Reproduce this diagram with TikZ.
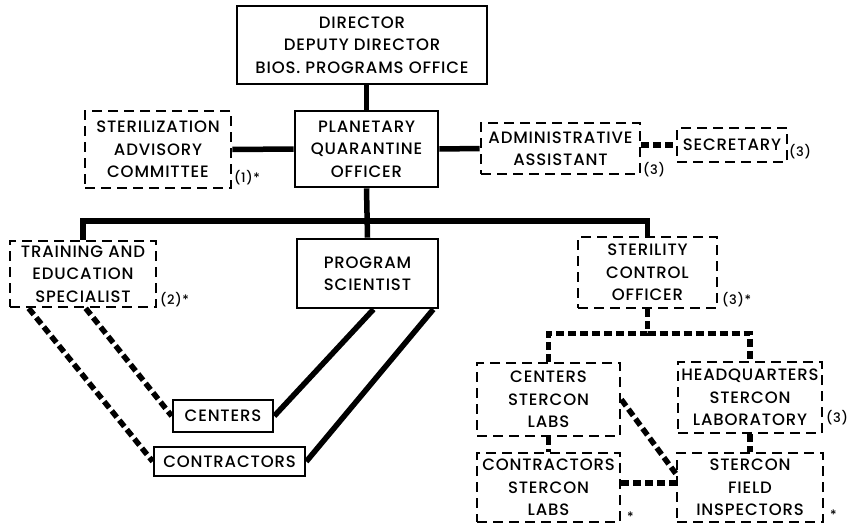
\documentclass[tikz,border=0pt]{standalone}
\usepackage{fontspec}
\setmainfont{Poppins Medium}[LetterSpace=5]
\begin{document}
\begin{tikzpicture}[x=1pt,y=-1pt,box/.style={draw, line width=2.6pt, align=center, inner sep=0pt, font=\fontsize{16.5}{22.5}\selectfont},dbox/.style={box, dash pattern=on 10pt off 6pt},conn/.style={line width=5.5pt},dconn/.style={line width=5.5pt, dash pattern=on 8pt off 4pt},note/.style={anchor=west, inner sep=0pt, font=\fontsize{13}{14}\selectfont}]
\useasboundingbox (0,0) rectangle (856,527);
\node[box, minimum width=250pt, minimum height=78pt] (dir) at (362,45) {DIRECTOR\\DEPUTY DIRECTOR\\BIOS. PROGRAMS OFFICE};
\node[box, minimum width=143pt, minimum height=76pt] (pqo) at (366.5,149) {PLANETARY\\QUARANTINE\\OFFICER};
\node[dbox, minimum width=146pt, minimum height=77pt] (sac) at (158,149.5) {STERILIZATION\\ADVISORY\\COMMITTEE};
\node[dbox, minimum width=159pt, minimum height=51pt] (adm) at (560.5,148.5) {ADMINISTRATIVE\\ASSISTANT};
\node[dbox, minimum width=110pt, minimum height=34pt] (sec) at (732,145) {SECRETARY};
\node[dbox, minimum width=146pt, minimum height=66pt] (tes) at (83,274) {TRAINING AND\\EDUCATION\\SPECIALIST};
\node[box, minimum width=141pt, minimum height=69pt] (ps) at (367.5,273.5) {PROGRAM\\SCIENTIST};
\node[dbox, minimum width=139pt, minimum height=71pt] (sco) at (647.5,272.5) {STERILITY\\CONTROL\\OFFICER};
\node[dbox, minimum width=143pt, minimum height=73pt] (csl) at (548.5,399.5) {CENTERS\\STERCON\\LABS};
\node[dbox, minimum width=144pt, minimum height=71pt] (hsl) at (750,397.5) {HEADQUARTERS\\STERCON\\LABORATORY};
\node[dbox, minimum width=143pt, minimum height=69pt] (ctl) at (548.5,487.5) {CONTRACTORS\\STERCON\\LABS};
\node[dbox, minimum width=146pt, minimum height=69pt] (sfi) at (750,487.5) {STERCON\\FIELD\\INSPECTORS};
\node[box, minimum width=100pt, minimum height=32pt] (cen) at (223,416) {CENTERS};
\node[box, minimum width=151pt, minimum height=29pt] (con) at (229.5,461.5) {CONTRACTORS};
\node[note] (n1) at (234,178) {(1)*}; \node[note] (n2) at (160,300) {(2)*}; \node[note] (n3) at (643,170) {(3)}; \node[note] (n4) at (789,152) {(3)};
\node[note] (n5) at (722,300) {(3)*}; \node[note] (n6) at (826,418) {(3)}; \node[note] (n7) at (627,517) {*}; \node[note] (n8) at (830,515) {*};
\coordinate (bus) at (366.5,221);
\draw[conn] (pqo.north |- dir.south) -- (pqo.north); \draw[conn] (pqo.south) -- (ps.north); \draw[conn] (tes.north) |- (bus) -| (sco.north);
\draw[conn] (pqo.west) -- (sac.east); \draw[conn] (pqo.east) -- (adm.west); \draw[dconn] (adm.east |- sec.west) -- (sec.west);
\draw[conn] ([xshift=6pt]ps.south) -- (cen.east); \draw[conn] ([xshift=-6pt]ps.south east) -- (con.east);
\draw[dconn] ([xshift=20pt]tes.south west) -- (con.west); \draw[dconn] ([xshift=77pt]tes.south west) -- (cen.west);
\draw[dconn] (sco.south) -- ++(0,24) coordinate (split) -| (csl.north); \draw[dconn] (split) -| (hsl.north);
\draw[dconn] (csl.south) -- (ctl.north); \draw[dconn] (hsl.south) -- (sfi.north);
\draw[dconn] (csl.east) -- ([yshift=14pt]sfi.west); \draw[dconn] ([yshift=4.5pt]ctl.east) -- ([yshift=4.5pt]sfi.west);
\end{tikzpicture}
\end{document}
